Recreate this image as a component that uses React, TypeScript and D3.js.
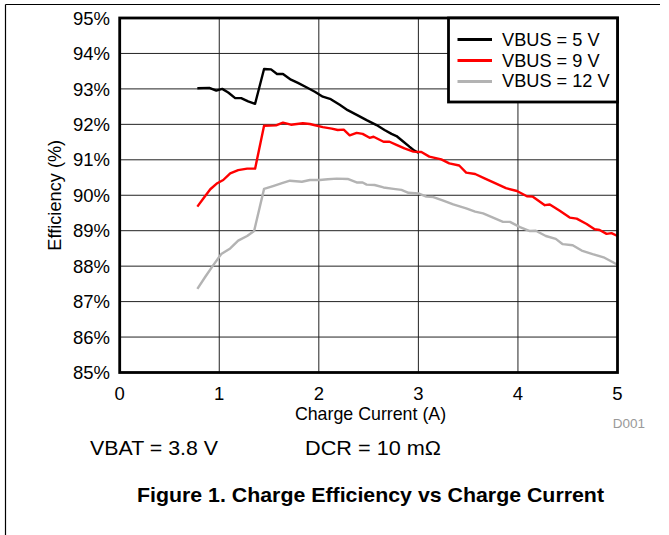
import React from "react";
import * as d3 from "d3";

const xTicks = [0, 1, 2, 3, 4, 5];
const yTicks = [85, 86, 87, 88, 89, 90, 91, 92, 93, 94, 95];

const seriesNames = ["VBUS = 5 V", "VBUS = 9 V", "VBUS = 12 V"];
const seriesColors = ["#000000", "#ff0000", "#b3b3b3"];

const current5V = [0.78, 0.9, 0.97, 1.03, 1.09, 1.16, 1.22, 1.29, 1.36, 1.45, 1.52, 1.58, 1.64, 1.72, 1.79, 1.88, 1.96, 2.04, 2.12, 2.21, 2.29, 2.4, 2.48, 2.58, 2.66, 2.73, 2.78, 2.85, 2.91, 2.96, 3.0];
const eff5V = [93.02, 93.03, 92.95, 93.0, 92.9, 92.74, 92.74, 92.65, 92.58, 93.56, 93.55, 93.42, 93.42, 93.26, 93.17, 93.04, 92.92, 92.78, 92.71, 92.55, 92.4, 92.24, 92.12, 91.98, 91.84, 91.73, 91.67, 91.51, 91.37, 91.26, 91.2];

const current9V = [0.78, 0.84, 0.91, 0.98, 1.04, 1.11, 1.19, 1.28, 1.36, 1.45, 1.57, 1.64, 1.72, 1.84, 1.91, 2.04, 2.13, 2.19, 2.25, 2.31, 2.38, 2.44, 2.51, 2.55, 2.65, 2.71, 2.78, 2.86, 2.95, 3.03, 3.11, 3.23, 3.31, 3.41, 3.48, 3.57, 3.67, 3.77, 3.88, 3.99, 4.09, 4.15, 4.27, 4.32, 4.42, 4.52, 4.59, 4.69, 4.77, 4.82, 4.89, 4.94, 5.0];
const eff9V = [89.68, 89.91, 90.17, 90.34, 90.43, 90.62, 90.71, 90.75, 90.75, 91.96, 91.97, 92.05, 91.99, 92.03, 92.01, 91.92, 91.88, 91.84, 91.85, 91.69, 91.76, 91.73, 91.62, 91.65, 91.51, 91.51, 91.42, 91.32, 91.23, 91.22, 91.09, 91.01, 90.9, 90.84, 90.64, 90.6, 90.47, 90.34, 90.2, 90.12, 89.97, 89.96, 89.72, 89.74, 89.56, 89.37, 89.34, 89.19, 89.04, 89.02, 88.91, 88.93, 88.85];

const current12V = [0.78, 0.86, 0.94, 1.02, 1.11, 1.19, 1.28, 1.35, 1.45, 1.54, 1.63, 1.71, 1.83, 1.91, 2.01, 2.09, 2.18, 2.29, 2.38, 2.44, 2.48, 2.56, 2.65, 2.75, 2.83, 2.9, 3.0, 3.08, 3.15, 3.25, 3.35, 3.48, 3.57, 3.65, 3.75, 3.85, 3.92, 4.02, 4.12, 4.18, 4.28, 4.38, 4.45, 4.55, 4.64, 4.75, 4.86, 4.94, 5.0];
const eff12V = [87.36, 87.7, 88.03, 88.34, 88.5, 88.72, 88.85, 88.99, 90.18, 90.26, 90.34, 90.41, 90.38, 90.43, 90.43, 90.45, 90.47, 90.46, 90.36, 90.36, 90.3, 90.29, 90.22, 90.18, 90.15, 90.07, 90.05, 89.96, 89.95, 89.85, 89.74, 89.63, 89.54, 89.49, 89.37, 89.25, 89.25, 89.1, 88.99, 89.0, 88.85, 88.77, 88.62, 88.59, 88.44, 88.34, 88.25, 88.13, 88.04];

const seriesX = [current5V, current9V, current12V];
const seriesY = [eff5V, eff9V, eff12V];

const FONT = "'Liberation Sans', Arial, sans-serif";

export default function App() {
  const W = 669;
  const H = 535;
  const x = d3.scaleLinear().domain([0, 5]).range([119.7, 617.5]);
  const y = d3.scaleLinear().domain([85, 95]).range([372.5, 18]);
  const line = d3
    .line<[number, number]>()
    .x((d) => x(d[0]))
    .y((d) => y(d[1]));

  const x0 = x(0), x1 = x(5), yTop = y(95), yBot = y(85);

  return (
    <svg
      width={W}
      height={H}
      style={{ position: "absolute", left: 0, top: 0, background: "#fff" }}
      fontFamily={FONT}
    >
      <rect x={0} y={0} width={W} height={H} fill="#fff" />
      {/* page frame */}
      <line x1={5.5} y1={4.5} x2={660} y2={4.5} stroke="#000" strokeWidth={1.2} />
      <line x1={5.5} y1={4.5} x2={5.5} y2={535} stroke="#000" strokeWidth={1.2} />

      {/* grid */}
      {xTicks.slice(1, -1).map((t) => (
        <line key={"gx" + t} x1={x(t)} x2={x(t)} y1={yTop} y2={yBot} stroke="#222" strokeWidth={1} />
      ))}
      {yTicks.slice(1, -1).map((t) => (
        <line key={"gy" + t} x1={x0} x2={x1} y1={y(t)} y2={y(t)} stroke="#222" strokeWidth={1} />
      ))}

      {/* series */}
      {seriesX.map((xs, i) => (
        <path
          key={"s" + i}
          d={line(xs.map((v, j) => [v, seriesY[i][j]] as [number, number])) || ""}
          fill="none"
          stroke={seriesColors[i]}
          strokeWidth={2.4}
          strokeLinejoin="round"
        />
      ))}

      {/* plot border */}
      <rect x={x0} y={yTop} width={x1 - x0} height={yBot - yTop} fill="none" stroke="#000" strokeWidth={2.8} />

      {/* y tick labels */}
      {yTicks.map((t) => (
        <text key={"yl" + t} x={110} y={y(t)} dy="0.36em" textAnchor="end" fontSize={18.5} fill="#000">
          {t}%
        </text>
      ))}
      {/* x tick labels */}
      {xTicks.map((t) => (
        <text key={"xl" + t} x={x(t)} y={400} textAnchor="middle" fontSize={18.5} fill="#000">
          {t}
        </text>
      ))}

      <text x={370.5} y={420} textAnchor="middle" fontSize={17.8} fill="#000">
        Charge Current (A)
      </text>
      <text
        transform={`translate(61,${(yTop + yBot) / 2}) rotate(-90)`}
        textAnchor="middle"
        fontSize={18.2}
        fill="#000"
      >
        Efficiency (%)
      </text>
      <text x={645} y={428} textAnchor="end" fontSize={13.5} fill="#999">
        D001
      </text>

      {/* legend */}
      <rect x={448.5} y={yTop} width={x1 - 448.5} height={84} fill="#fff" stroke="#000" strokeWidth={2.8} />
      {seriesNames.map((n, i) => (
        <g key={"lg" + i}>
          <line x1={457.5} x2={492} y1={39.5 + i * 21} y2={39.5 + i * 21} stroke={seriesColors[i]} strokeWidth={3} />
          <text x={502} y={46 + i * 20.5} fontSize={18.2} fill="#000">
            {n}
          </text>
        </g>
      ))}

      {/* annotations */}
      <text x={90} y={455} fontSize={20} textLength={128} lengthAdjust="spacingAndGlyphs" fill="#000">
        VBAT = 3.8 V
      </text>
      <text x={305} y={455} fontSize={20} textLength={136} lengthAdjust="spacingAndGlyphs" fill="#000">
        DCR = 10 mΩ
      </text>
      <text x={137} y={502} fontSize={20.5} fontWeight="bold" textLength={467} lengthAdjust="spacingAndGlyphs" fill="#000">
        Figure 1. Charge Efficiency vs Charge Current
      </text>
    </svg>
  );
}
